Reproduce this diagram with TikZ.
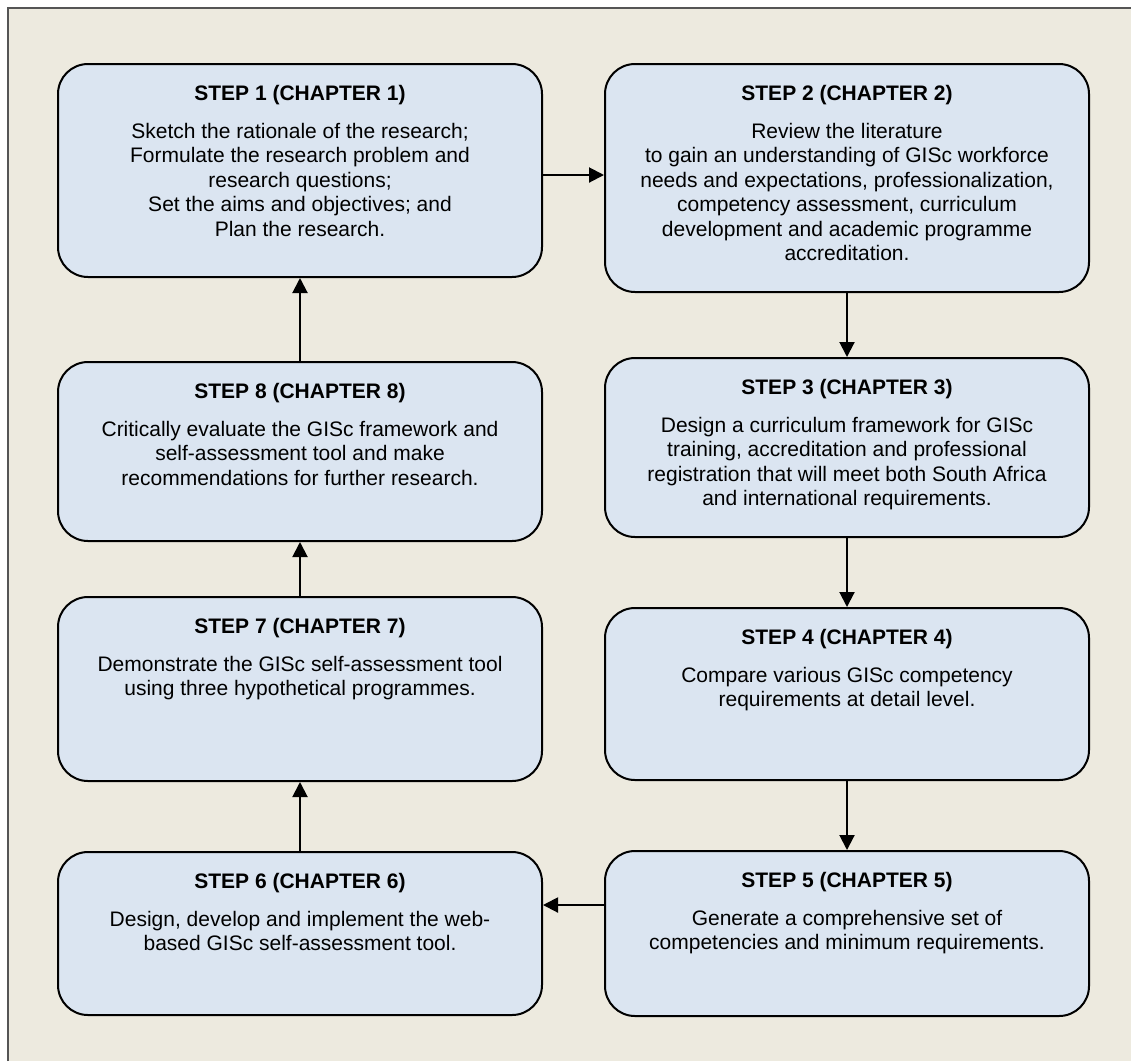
\documentclass[tikz,border=0pt]{standalone}
\usepackage{fontspec}
\setmainfont{Liberation Sans}
\usetikzlibrary{arrows.meta,calc}
\definecolor{paper}{RGB}{237,234,223}
\definecolor{boxfill}{RGB}{219,229,241}
\definecolor{framegray}{RGB}{85,85,85}
\begin{document}
\begin{tikzpicture}[x=1pt,y=-1pt,
  stepbox/.style={draw=black, line width=2pt, fill=boxfill, rounded corners=30pt,
                  minimum width=484pt, inner sep=0pt},
  steptext/.style={anchor=north, align=center, inner sep=0pt,
                   font=\fontsize{21}{24.5}\selectfont},
  flow/.style={line width=2pt, -{Triangle[length=15pt,width=15pt]}}]

% page and frame
\useasboundingbox (0,0) rectangle (1131,1061);
\fill[paper] (8,8) rectangle (1131,1061);
\draw[framegray, line width=2pt] (8,1061) -- (8,8) -- (1131,8);

% step boxes
\node[stepbox, minimum height=213pt] (s1) at (300,170.5) {};
\node[stepbox, minimum height=228pt] (s2) at (847,178) {};
\node[stepbox, minimum height=179pt] (s8) at (300,451.5) {};
\node[stepbox, minimum height=179pt] (s3) at (847,447.5) {};
\node[stepbox, minimum height=184pt] (s7) at (300,689) {};
\node[stepbox, minimum height=172pt] (s4) at (847,694) {};
\node[stepbox, minimum height=163pt] (s6) at (300,933.5) {};
\node[stepbox, minimum height=165pt] (s5) at (847,933.5) {};

% step texts
\node[steptext] (t1) at ($(s1.north)+(0,22)$) {\textbf{STEP 1 (CHAPTER 1)}\\[13.5pt]
  Sketch the rationale of the research;\\
  Formulate the research problem and\\
  research questions;\\
  Set the aims and objectives; and\\
  Plan the research.};
\node[steptext] (t2) at ($(s2.north)+(0,22)$) {\textbf{STEP 2 (CHAPTER 2)}\\[13.5pt]
  Review the literature\\
  to gain an understanding of GISc workforce\\
  needs and expectations, professionalization,\\
  competency assessment, curriculum\\
  development and academic programme\\
  accreditation.};
\node[steptext] (t8) at ($(s8.north)+(0,22)$) {\textbf{STEP 8 (CHAPTER 8)}\\[13.5pt]
  Critically evaluate the GISc framework and\\
  self-assessment tool and make\\
  recommendations for further research.};
\node[steptext] (t3) at ($(s3.north)+(0,22)$) {\textbf{STEP 3 (CHAPTER 3)}\\[13.5pt]
  Design a curriculum framework for GISc\\
  training, accreditation and professional\\
  registration that will meet both South Africa\\
  and international requirements.};
\node[steptext] (t7) at ($(s7.north)+(0,22)$) {\textbf{STEP 7 (CHAPTER 7)}\\[13.5pt]
  Demonstrate the GISc self-assessment tool\\
  using three hypothetical programmes.};
\node[steptext] (t4) at ($(s4.north)+(0,22)$) {\textbf{STEP 4 (CHAPTER 4)}\\[13.5pt]
  Compare various GISc competency\\
  requirements at detail level.};
\node[steptext] (t6) at ($(s6.north)+(0,22)$) {\textbf{STEP 6 (CHAPTER 6)}\\[13.5pt]
  Design, develop and implement the web-\\
  based GISc self-assessment tool.};
\node[steptext] (t5) at ($(s5.north)+(0,22)$) {\textbf{STEP 5 (CHAPTER 5)}\\[13.5pt]
  Generate a comprehensive set of\\
  competencies and minimum requirements.};

% connectors
\coordinate (row1) at (0,175);
\coordinate (row5) at (0,905);
\draw[flow] (s1.east |- row1) -- (s2.west |- row1);
\draw[flow] (s2.south) -- (s3.north);
\draw[flow] (s3.south) -- (s4.north);
\draw[flow] (s4.south) -- (s5.north);
\draw[flow] (s5.west |- row5) -- (s6.east |- row5);
\draw[flow] (s6.north) -- (s7.south);
\draw[flow] (s7.north) -- (s8.south);
\draw[flow] (s8.north) -- (s1.south);
\end{tikzpicture}
\end{document}
